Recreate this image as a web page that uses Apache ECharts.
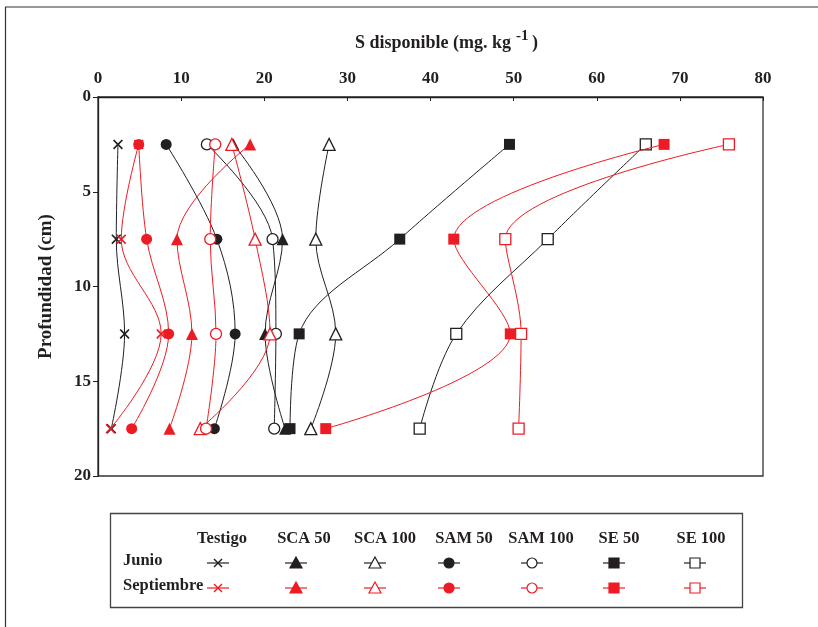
<!DOCTYPE html>
<html>
<head>
<meta charset="utf-8">
<script src="https://cdn.jsdelivr.net/npm/echarts@6/dist/echarts.min.js"></script>
<style>html,body{margin:0;padding:0;background:#fff}#c{width:818px;height:627px}</style>
</head>
<body>
<div id="c"></div>
<script>
// ---- data ----
var depths = [2.5, 7.5, 12.5, 17.5];
var xTicks = [0, 10, 20, 30, 40, 50, 60, 70, 80];
var yTicks = [0, 5, 10, 15, 20];
var treatments = ['Testigo', 'SCA 50', 'SCA 100', 'SAM 50', 'SAM 100', 'SE 50', 'SE 100'];
var months = ['Junio', 'Septiembre'];

var testigoJun = [2.4, 2.2, 3.2, 1.6];
var testigoSep = [4.9, 2.8, 7.6, 1.5];
var sca50Jun   = [16.3, 22.2, 20.1, 22.5];
var sca50Sep   = [18.3, 9.5, 11.3, 8.6];
var sca100Jun  = [27.8, 26.2, 28.6, 25.6];
var sca100Sep  = [16.1, 18.9, 20.7, 12.3];
var sam50Jun   = [8.2, 14.3, 16.5, 14.0];
var sam50Sep   = [4.9, 5.85, 8.5, 4.05];
var sam100Jun  = [13.1, 21.0, 21.4, 21.2];
var sam100Sep  = [14.1, 13.5, 14.2, 13.0];
var se50Jun    = [49.5, 36.3, 24.2, 23.1];
var se50Sep    = [68.1, 42.8, 49.6, 27.4];
var se100Jun   = [65.9, 54.1, 43.1, 38.7];
var se100Sep   = [75.9, 49.0, 50.9, 50.6];

var junValues = [testigoJun, sca50Jun, sca100Jun, sam50Jun, sam100Jun, se50Jun, se100Jun];
var sepValues = [testigoSep, sca50Sep, sca100Sep, sam50Sep, sam100Sep, se50Sep, se100Sep];

// ---- styles ----
var BLACK = '#231f20', RED = '#ed1c24';
var FONT = '"Liberation Serif", "Times New Roman", serif';
var XPATH = 'path://M0,1.2L1.2,0L5,3.8L8.8,0L10,1.2L6.2,5L10,8.8L8.8,10L5,6.2L1.2,10L0,8.8L3.8,5Z';
var TRI = 'triangle';
var markers = [
  {sym: XPATH, size: 10, filled: true},
  {sym: TRI, size: 12, filled: true},
  {sym: TRI, size: 12, filled: false},
  {sym: 'circle', size: 11, filled: true},
  {sym: 'circle', size: 11, filled: false},
  {sym: 'rect', size: 11, filled: true},
  {sym: 'rect', size: 11, filled: false}
];

function mkSeries(name, vals, color, m, z) {
  return {
    name: name,
    type: 'line',
    smooth: 0.35,
    z: z,
    data: vals.map(function (v, i) { return [v, depths[i]]; }),
    symbol: m.sym,
    symbolSize: m.size,
    showAllSymbol: true,
    lineStyle: {color: color, width: 1},
    itemStyle: {
      color: m.filled ? color : '#ffffff',
      borderColor: color,
      borderWidth: m.filled ? 0 : 1.3
    },
    emphasis: {disabled: true}
  };
}

var series = [];
treatments.forEach(function (t, i) {
  series.push(mkSeries(t + ' Junio', junValues[i], BLACK, markers[i], 2));
});
treatments.forEach(function (t, i) {
  series.push(mkSeries(t + ' Septiembre', sepValues[i], RED, markers[i], 3));
});

// ---- legend table (graphic) ----
var colX = [222, 304, 385, 464, 541, 619, 701];
var mkX = [218, 296, 375, 449, 532, 614, 695];
var rowY = [563, 588];
var TITLE_FONT = 'bold 18px ' + FONT;
var titleText = 'S disponible (mg. kg';
var tw = echarts.format.getTextRect ? echarts.format.getTextRect(titleText, TITLE_FONT).width : 155;
var tx = 355;
var graphics = [
  {type: 'line', shape: {x1: 5, y1: 7, x2: 818, y2: 7}, style: {stroke: '#333', lineWidth: 1.2}},
  {type: 'line', shape: {x1: 5.5, y1: 7, x2: 5.5, y2: 627}, style: {stroke: '#333', lineWidth: 1.2}},
  {type: 'rect', shape: {x: 110.5, y: 513.5, width: 632, height: 94}, style: {fill: 'none', stroke: '#444', lineWidth: 1.3}},
  {type: 'text', x: tx, y: 43, style: {text: titleText, font: TITLE_FONT, fill: BLACK, verticalAlign: 'middle'}},
  {type: 'text', x: tx + tw + 5, y: 36, style: {text: '-1', font: 'bold 15px ' + FONT, fill: BLACK, verticalAlign: 'middle'}},
  {type: 'text', x: tx + tw + 21, y: 43, style: {text: ')', font: TITLE_FONT, fill: BLACK, verticalAlign: 'middle'}}
];
treatments.forEach(function (t, i) {
  graphics.push({type: 'text', x: colX[i], y: 539, style: {text: t, font: 'bold 16.5px ' + FONT, fill: BLACK, align: 'center', verticalAlign: 'middle'}});
});
months.forEach(function (mn, r) {
  graphics.push({type: 'text', x: 123, y: rowY[r] - 2, style: {text: mn, font: 'bold 16.5px ' + FONT, fill: BLACK, align: 'left', verticalAlign: 'middle'}});
});
function legendMarker(i, cx, cy, color) {
  var m = markers[i];
  var fill = m.filled ? color : '#ffffff';
  var items = [{type: 'line', shape: {x1: cx - 11, y1: cy, x2: cx + 11, y2: cy}, style: {stroke: color, lineWidth: 1.2}}];
  var s = 5;
  if (i === 0) {
    items.push({type: 'line', shape: {x1: cx - 4, y1: cy - 4, x2: cx + 4, y2: cy + 4}, style: {stroke: color, lineWidth: 1.5}});
    items.push({type: 'line', shape: {x1: cx + 4, y1: cy - 4, x2: cx - 4, y2: cy + 4}, style: {stroke: color, lineWidth: 1.5}});
  } else if (m.sym === TRI) {
    items.push({type: 'polygon', shape: {points: [[cx, cy - 6], [cx + 6, cy + 5], [cx - 6, cy + 5]]}, style: {fill: fill, stroke: color, lineWidth: 1.2}});
  } else if (m.sym === 'circle') {
    items.push({type: 'circle', shape: {cx: cx, cy: cy, r: 5}, style: {fill: fill, stroke: color, lineWidth: 1.2}});
  } else {
    items.push({type: 'rect', shape: {x: cx - s, y: cy - s, width: 2 * s, height: 2 * s}, style: {fill: fill, stroke: color, lineWidth: 1.2}});
  }
  return items;
}
treatments.forEach(function (t, i) {
  graphics = graphics.concat(legendMarker(i, mkX[i], rowY[0], BLACK));
  graphics = graphics.concat(legendMarker(i, mkX[i], rowY[1], RED));
});

var chart = echarts.init(document.getElementById('c'), null, {renderer: 'canvas'});
var option = {
  animation: false,
  backgroundColor: '#ffffff',
  grid: {left: 98, top: 97, right: 55, bottom: 151, show: true, borderColor: '#333', borderWidth: 1.3, backgroundColor: 'transparent'},
  xAxis: {
    type: 'value', position: 'top', min: xTicks[0], max: xTicks[xTicks.length - 1], interval: 10,
    axisLine: {show: true, lineStyle: {color: BLACK, width: 1.3}},
    axisTick: {show: true, inside: true, length: 4, lineStyle: {color: BLACK}},
    axisLabel: {margin: 10, color: BLACK, fontFamily: FONT, fontWeight: 'bold', fontSize: 17},
    splitLine: {show: false}
  },
  yAxis: {
    type: 'value', inverse: true, min: yTicks[0], max: yTicks[yTicks.length - 1], interval: 5,
    name: 'Profundidad (cm)', nameLocation: 'middle', nameGap: 42, nameRotate: 90,
    nameTextStyle: {color: BLACK, fontFamily: FONT, fontWeight: 'bold', fontSize: 19},
    axisLine: {show: true, lineStyle: {color: BLACK, width: 1.3}},
    axisTick: {show: true, inside: false, length: 5, lineStyle: {color: BLACK}},
    axisLabel: {margin: 7, color: BLACK, fontFamily: FONT, fontWeight: 'bold', fontSize: 17},
    splitLine: {show: false}
  },
  series: series,
  graphic: graphics
};
chart.setOption(option);
</script>
</body>
</html>
